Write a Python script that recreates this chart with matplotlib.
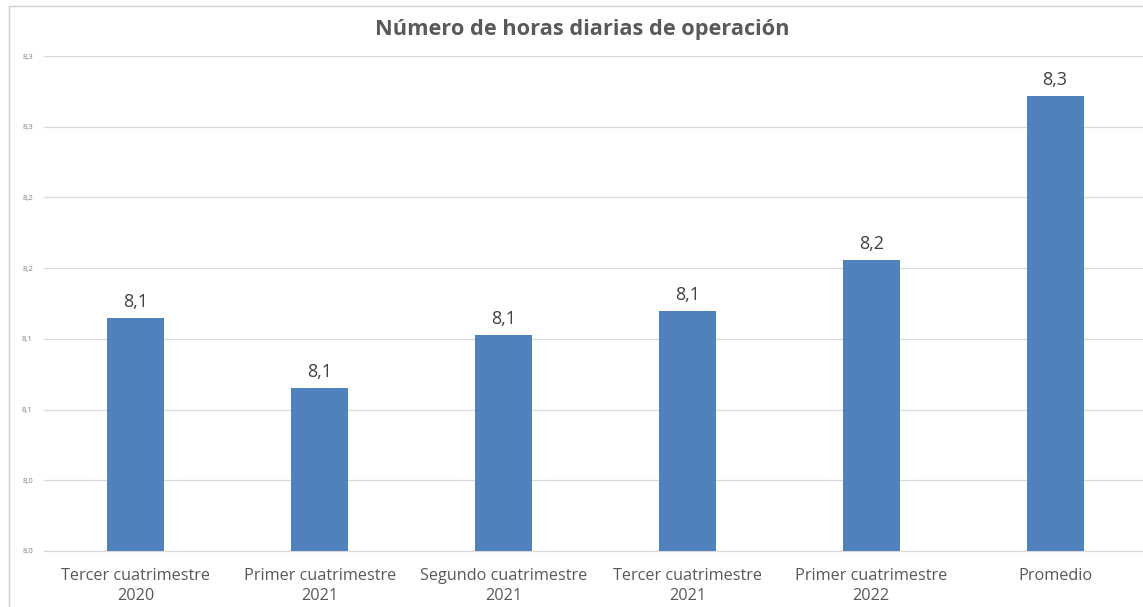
import matplotlib
matplotlib.use("Agg")
import matplotlib.pyplot as plt
from matplotlib.lines import Line2D

categories = ["Tercer cuatrimestre\n2020", "Primer cuatrimestre\n2021", "Segundo cuatrimestre\n2021",
              "Tercer cuatrimestre\n2021", "Primer cuatrimestre\n2022", "Promedio"]
values = [8.115, 8.065, 8.103, 8.120, 8.156, 8.272]
value_labels = ["8,1", "8,1", "8,1", "8,1", "8,2", "8,3"]
yticks = [7.95, 8.00, 8.05, 8.10, 8.15, 8.20, 8.25, 8.30]
ytick_labels = ["8,0", "8,0", "8,1", "8,1", "8,2", "8,2", "8,3", "8,3"]
title = "Número de horas diarias de operación"

W, H = 1143, 607
fig = plt.figure(figsize=(W / 100, H / 100), dpi=100)
plt.rcParams['font.family'] = ['Open Sans', 'DejaVu Sans']

ax = fig.add_axes([44 / W, (H - 551) / H, 1103 / W, 495 / H])
x = list(range(len(categories)))
bars = ax.bar(x, values, width=0.31, color="#4F81BD", zorder=3)
ax.set_xlim(-0.5, len(categories) - 0.5)
ax.set_ylim(yticks[0], yticks[-1])
ax.set_yticks(yticks)
ax.set_yticklabels(ytick_labels, fontsize=5.5, color="#7F7F7F")
ax.set_xticks(x)
ax.set_xticklabels(categories, fontsize=11.7, color="#595959", linespacing=1.35)
ax.tick_params(axis="both", length=0)
ax.tick_params(axis="y", pad=8)
ax.tick_params(axis="x", pad=12)
ax.grid(axis="y", color="#D9D9D9", linewidth=0.9, zorder=0)
for s in ["top", "right", "left"]:
    ax.spines[s].set_visible(False)
ax.spines["bottom"].set_color("#D9D9D9")
ax.spines["bottom"].set_linewidth(0.9)

for xi, v, lab in zip(x, values, value_labels):
    ax.annotate(lab, (xi, v), xytext=(0, 5), textcoords="offset points",
                ha="center", va="bottom", fontsize=13, color="#404040")

fig.text((376 + 788) / 2 / W, 1 - 29 / H, title, ha="center", va="center",
         fontsize=15.7, fontweight="bold", color="#595959")

# chart border (left and top visible)
fig.add_artist(Line2D([9 / W, 9 / W], [0, 1 - 6 / H], transform=fig.transFigure,
                      color="#D0D0D0", linewidth=1))
fig.add_artist(Line2D([9 / W, 1], [1 - 6 / H, 1 - 6 / H], transform=fig.transFigure,
                      color="#D0D0D0", linewidth=1))

fig.savefig("out.png", dpi=100, facecolor="white")
